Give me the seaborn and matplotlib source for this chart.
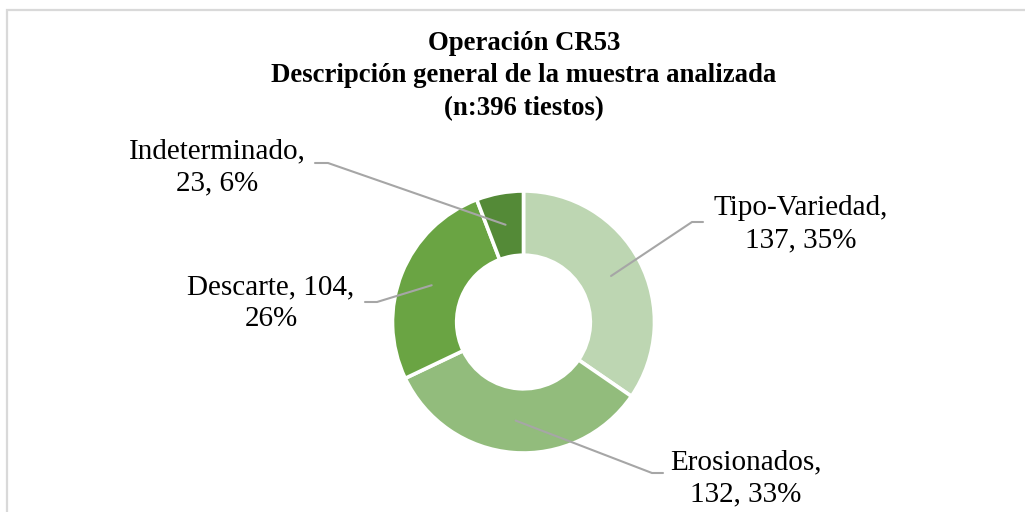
import matplotlib
matplotlib.use("Agg")
import matplotlib.pyplot as plt
from matplotlib.patches import Rectangle
import numpy as np
import seaborn as sns

# Sherd counts by classification (Operación CR53)
categories = ["Tipo-Variedad", "Erosionados", "Descarte", "Indeterminado"]
counts = [137, 132, 104, 23]
# how many of the label parts go on the first line
first_line_parts = [1, 1, 2, 1]
title_lines = ["Operación CR53",
               "Descripción general de la muestra analizada",
               "(n:396 tiestos)"]

colors = ["#BDD6B2", "#92BC7C", "#6AA443", "#548A37"]

sns.set_theme(style="white")
plt.rcParams["font.family"] = ["Liberation Serif", "DejaVu Serif"]

W, H = 1025, 512
fig = plt.figure(figsize=(W / 100, H / 100), dpi=100)
ax = fig.add_axes([0, 0, 1, 1])
ax.set_xlim(0, W)
ax.set_ylim(0, H)
ax.set_aspect("equal")
ax.axis("off")


def px(x, y):
    """Convert top-left pixel coordinates to axes data coordinates."""
    return x, H - y


# chart frame
ax.add_patch(Rectangle(px(6.5, 530), 1040, 520, fill=False,
                       edgecolor="#D9D9D9", linewidth=1.6))

center = px(523.5, 322)
radius = 131
ring = 0.49
wedges, _ = ax.pie(counts, colors=colors, startangle=90, counterclock=False,
                   center=center, radius=radius,
                   wedgeprops=dict(width=radius * ring, edgecolor="white",
                                   linewidth=2.6))
ax.set_xlim(0, W)
ax.set_ylim(0, H)

total = sum(counts)
label_xy = [(801, 224), (746, 478), (271, 303), (217, 167)]
elbow_xy = [(692, 222), (652, 473), (377, 302), (328, 163)]
line_end_x = [703, 663, 365, 315]
r_mid = radius * (1 - ring / 2)

for i, (cat, n, w) in enumerate(zip(categories, counts, wedges)):
    pct = round(n / total * 100)
    parts = [f"{cat},", f"{n},", f"{pct}%"]
    k = first_line_parts[i]
    text = " ".join(parts[:k]) + "\n" + " ".join(parts[k:])
    ax.text(*px(*label_xy[i]), text, ha="center", va="center",
            multialignment="center", fontsize=21, linespacing=1.3,
            color="black")
    ang = np.deg2rad((w.theta1 + w.theta2) / 2)
    x0 = center[0] + r_mid * np.cos(ang)
    y0 = center[1] + r_mid * np.sin(ang)
    ex, ey = px(*elbow_xy[i])
    lx, ly = px(line_end_x[i], elbow_xy[i][1])
    ax.plot([x0, ex, lx], [y0, ey, ly], color="#A6A6A6", linewidth=1.5,
            solid_joinstyle="miter")

ax.text(*px(524, 76), "\n".join(title_lines), ha="center", va="center",
        fontsize=19.3, fontweight="bold", linespacing=1.42, color="black")

fig.savefig("out.png", dpi=100, facecolor="white")
